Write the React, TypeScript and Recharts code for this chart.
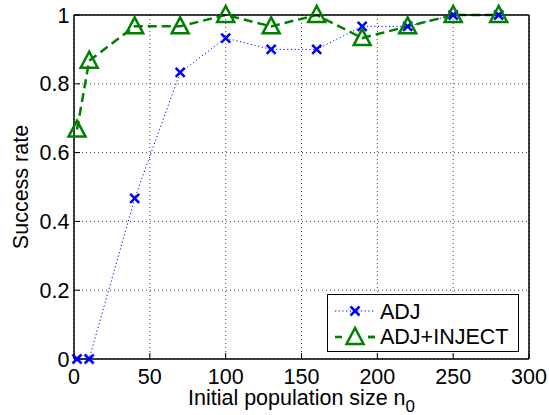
import React from 'react';
import {
  LineChart,
  Line,
  XAxis,
  YAxis,
  CartesianGrid,
  Legend,
  Label,
} from 'recharts';

// initial population sizes n0
const popSizes = [2, 10, 40, 70, 100, 130, 160, 190, 220, 250, 280];
// success rate of each method
const adj = [0, 0, 0.467, 0.833, 0.933, 0.9, 0.9, 0.967, 0.967, 1, 1];
const adjInject = [0.667, 0.867, 0.967, 0.967, 1, 0.967, 1, 0.933, 0.967, 1, 1];

const xTicks = [0, 50, 100, 150, 200, 250, 300];
const yTicks = [0, 0.2, 0.4, 0.6, 0.8, 1];

const FONT = '"Liberation Sans", Arial, sans-serif';
const FS = 21.5;
const BLUE = '#0000ff';
const GREEN = '#008000';

const data = popSizes.map((n, i) => ({ n, adj: adj[i], adjInject: adjInject[i] }));

const CrossDot = (props: any) => {
  const { cx, cy } = props;
  if (cx == null || cy == null) return null;
  const r = 4.5;
  return (
    <g stroke={BLUE} strokeWidth={2.5}>
      <line x1={cx - r} y1={cy - r} x2={cx + r} y2={cy + r} />
      <line x1={cx - r} y1={cy + r} x2={cx + r} y2={cy - r} />
    </g>
  );
};

const TriangleDot = (props: any) => {
  const { cx, cy } = props;
  if (cx == null || cy == null) return null;
  return (
    <polygon
      points={`${cx},${cy - 9} ${cx - 8.5},${cy + 7} ${cx + 8.5},${cy + 7}`}
      fill="none"
      stroke={GREEN}
      strokeWidth={2.5}
    />
  );
};

const LegendBox = () => (
  <svg width={192} height={58} style={{ display: 'block' }}>
    <rect x={0.5} y={0.5} width={191} height={57} fill="#fff" stroke="#000" strokeWidth={1} />
    <line x1={8} y1={17} x2={48} y2={17} stroke={BLUE} strokeWidth={1} strokeDasharray="1.2 2.5" />
    <CrossDot cx={28} cy={17} />
    <text x={53} y={25} fontSize={FS} fontFamily={FONT} fill="#000">ADJ</text>
    <line x1={8} y1={43} x2={48} y2={43} stroke={GREEN} strokeWidth={2.5} strokeDasharray="7 26" />
    <line x1={41} y1={43} x2={48} y2={43} stroke={GREEN} strokeWidth={2.5} />
    <TriangleDot cx={28} cy={43} />
    <text x={53} y={50} fontSize={FS} fontFamily={FONT} fill="#000">ADJ+INJECT</text>
  </svg>
);

export default function App() {
  const tickStyle = { fontSize: FS, fontFamily: FONT, fill: '#000' };
  return (
    <div style={{ position: 'absolute', left: 0, top: 0, background: '#fff' }}>
      <LineChart
        width={549}
        height={415}
        data={data}
        margin={{ top: 14, right: 19, left: 0, bottom: 0 }}
      >
        <CartesianGrid stroke="#444" strokeDasharray="1 3" strokeWidth={1} />
        <XAxis
          dataKey="n"
          type="number"
          domain={[0, 300]}
          ticks={xTicks}
          height={56}
          tickSize={-6}
          tickMargin={16}
          tick={tickStyle}
          stroke="#000"
          axisLine={{ stroke: '#000', strokeWidth: 1.5 }}
          tickLine={{ stroke: '#000' }}
        >
          <Label
            content={() => (
              <text x={301.5} y={405} textAnchor="middle" fontSize={FS} fontFamily={FONT} fill="#000">
                Initial population size n
                <tspan fontSize={17} dy={7}>0</tspan>
              </text>
            )}
          />
        </XAxis>
        <XAxis
          xAxisId="top"
          orientation="top"
          dataKey="n"
          type="number"
          domain={[0, 300]}
          ticks={xTicks}
          height={1}
          tickSize={-6}
          tick={false}
          axisLine={{ stroke: '#000', strokeWidth: 1.5 }}
          tickLine={{ stroke: '#000' }}
        />
        <YAxis
          domain={[0, 1]}
          ticks={yTicks}
          width={74}
          tickSize={-6}
          tickMargin={10.5}
          tick={tickStyle}
          tickFormatter={(v: number) => String(v)}
          axisLine={{ stroke: '#000', strokeWidth: 1.5 }}
          tickLine={{ stroke: '#000' }}
        >
          <Label
            content={() => (
              <text
                x={28}
                y={187}
                transform="rotate(-90, 28, 187)"
                textAnchor="middle"
                fontSize={FS}
                fontFamily={FONT}
                fill="#000"
              >
                Success rate
              </text>
            )}
          />
        </YAxis>
        <YAxis
          yAxisId="right"
          orientation="right"
          domain={[0, 1]}
          ticks={yTicks}
          width={1}
          tickSize={-6}
          tick={false}
          axisLine={{ stroke: '#000', strokeWidth: 1.5 }}
          tickLine={{ stroke: '#000' }}
        />
        <Line
          dataKey="adj"
          name="ADJ"
          stroke={BLUE}
          strokeWidth={1}
          strokeDasharray="1.2 2.5"
          dot={<CrossDot />}
          isAnimationActive={false}
        />
        <Line
          dataKey="adjInject"
          name="ADJ+INJECT"
          stroke={GREEN}
          strokeWidth={2.5}
          strokeDasharray="9 5"
          dot={<TriangleDot />}
          isAnimationActive={false}
        />
        <Legend
          layout="vertical"
          align="center"
          verticalAlign="middle"
          content={() => <LegendBox />}
          wrapperStyle={{ position: 'absolute', left: 327, top: 294, width: 192, height: 58 }}
        />
      </LineChart>
    </div>
  );
}
